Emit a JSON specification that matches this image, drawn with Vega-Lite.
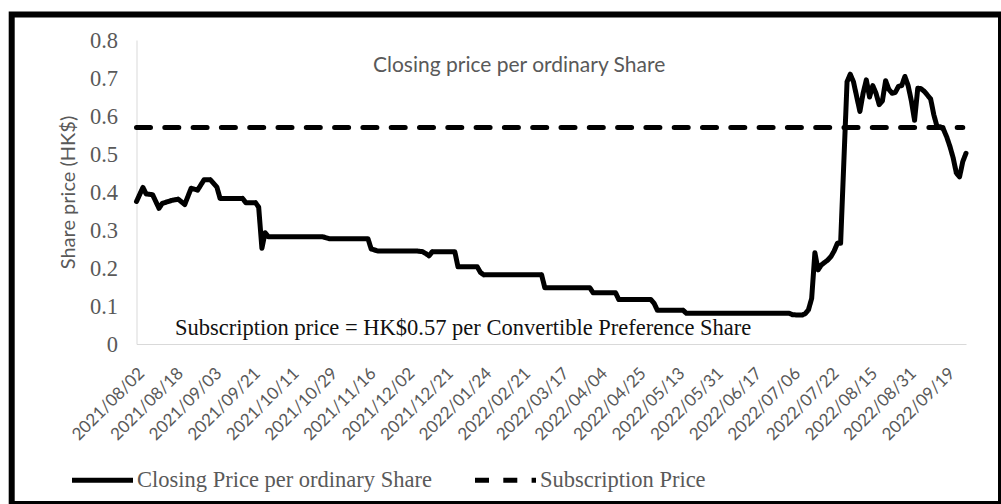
{
  "$schema": "https://vega.github.io/schema/vega-lite/v6.json",
  "width": 989.3,
  "height": 489.6,
  "autosize": {"type": "none"},
  "padding": {"left": 11.7, "top": 14.4, "right": 0, "bottom": 0},
  "background": "white",
  "config": {"view": {"stroke": "#000", "strokeWidth": 6, "fill": "white"}},
  "layer": [
    {
      "data": {"values": [
        {"i": 0, "p": 0.375, "s": "Closing Price per ordinary Share"},
        {"i": 2, "p": 0.412, "s": "Closing Price per ordinary Share"},
        {"i": 3, "p": 0.395, "s": "Closing Price per ordinary Share"},
        {"i": 5, "p": 0.393, "s": "Closing Price per ordinary Share"},
        {"i": 7, "p": 0.357, "s": "Closing Price per ordinary Share"},
        {"i": 8, "p": 0.37, "s": "Closing Price per ordinary Share"},
        {"i": 11, "p": 0.378, "s": "Closing Price per ordinary Share"},
        {"i": 13, "p": 0.381, "s": "Closing Price per ordinary Share"},
        {"i": 15, "p": 0.367, "s": "Closing Price per ordinary Share"},
        {"i": 17, "p": 0.41, "s": "Closing Price per ordinary Share"},
        {"i": 19, "p": 0.405, "s": "Closing Price per ordinary Share"},
        {"i": 21, "p": 0.432, "s": "Closing Price per ordinary Share"},
        {"i": 23, "p": 0.432, "s": "Closing Price per ordinary Share"},
        {"i": 25, "p": 0.413, "s": "Closing Price per ordinary Share"},
        {"i": 26, "p": 0.383, "s": "Closing Price per ordinary Share"},
        {"i": 33, "p": 0.383, "s": "Closing Price per ordinary Share"},
        {"i": 34, "p": 0.372, "s": "Closing Price per ordinary Share"},
        {"i": 37, "p": 0.372, "s": "Closing Price per ordinary Share"},
        {"i": 38, "p": 0.36, "s": "Closing Price per ordinary Share"},
        {"i": 39, "p": 0.252, "s": "Closing Price per ordinary Share"},
        {"i": 40, "p": 0.293, "s": "Closing Price per ordinary Share"},
        {"i": 41, "p": 0.282, "s": "Closing Price per ordinary Share"},
        {"i": 58, "p": 0.282, "s": "Closing Price per ordinary Share"},
        {"i": 60, "p": 0.277, "s": "Closing Price per ordinary Share"},
        {"i": 72, "p": 0.277, "s": "Closing Price per ordinary Share"},
        {"i": 73, "p": 0.25, "s": "Closing Price per ordinary Share"},
        {"i": 75, "p": 0.245, "s": "Closing Price per ordinary Share"},
        {"i": 87, "p": 0.245, "s": "Closing Price per ordinary Share"},
        {"i": 89, "p": 0.243, "s": "Closing Price per ordinary Share"},
        {"i": 90, "p": 0.238, "s": "Closing Price per ordinary Share"},
        {"i": 91, "p": 0.232, "s": "Closing Price per ordinary Share"},
        {"i": 92, "p": 0.243, "s": "Closing Price per ordinary Share"},
        {"i": 99, "p": 0.243, "s": "Closing Price per ordinary Share"},
        {"i": 100, "p": 0.203, "s": "Closing Price per ordinary Share"},
        {"i": 106, "p": 0.203, "s": "Closing Price per ordinary Share"},
        {"i": 107, "p": 0.188, "s": "Closing Price per ordinary Share"},
        {"i": 108, "p": 0.182, "s": "Closing Price per ordinary Share"},
        {"i": 126, "p": 0.182, "s": "Closing Price per ordinary Share"},
        {"i": 127, "p": 0.148, "s": "Closing Price per ordinary Share"},
        {"i": 141, "p": 0.148, "s": "Closing Price per ordinary Share"},
        {"i": 142, "p": 0.135, "s": "Closing Price per ordinary Share"},
        {"i": 149, "p": 0.135, "s": "Closing Price per ordinary Share"},
        {"i": 150, "p": 0.117, "s": "Closing Price per ordinary Share"},
        {"i": 160, "p": 0.117, "s": "Closing Price per ordinary Share"},
        {"i": 161, "p": 0.107, "s": "Closing Price per ordinary Share"},
        {"i": 162, "p": 0.089, "s": "Closing Price per ordinary Share"},
        {"i": 170, "p": 0.089, "s": "Closing Price per ordinary Share"},
        {"i": 171, "p": 0.081, "s": "Closing Price per ordinary Share"},
        {"i": 203, "p": 0.081, "s": "Closing Price per ordinary Share"},
        {"i": 204, "p": 0.077, "s": "Closing Price per ordinary Share"},
        {"i": 207, "p": 0.076, "s": "Closing Price per ordinary Share"},
        {"i": 208, "p": 0.08, "s": "Closing Price per ordinary Share"},
        {"i": 209, "p": 0.09, "s": "Closing Price per ordinary Share"},
        {"i": 210, "p": 0.12, "s": "Closing Price per ordinary Share"},
        {"i": 211, "p": 0.24, "s": "Closing Price per ordinary Share"},
        {"i": 212, "p": 0.195, "s": "Closing Price per ordinary Share"},
        {"i": 213, "p": 0.208, "s": "Closing Price per ordinary Share"},
        {"i": 215, "p": 0.221, "s": "Closing Price per ordinary Share"},
        {"i": 216, "p": 0.23, "s": "Closing Price per ordinary Share"},
        {"i": 217, "p": 0.245, "s": "Closing Price per ordinary Share"},
        {"i": 218, "p": 0.265, "s": "Closing Price per ordinary Share"},
        {"i": 219, "p": 0.265, "s": "Closing Price per ordinary Share"},
        {"i": 221, "p": 0.69, "s": "Closing Price per ordinary Share"},
        {"i": 222, "p": 0.71, "s": "Closing Price per ordinary Share"},
        {"i": 223, "p": 0.69, "s": "Closing Price per ordinary Share"},
        {"i": 225, "p": 0.612, "s": "Closing Price per ordinary Share"},
        {"i": 226, "p": 0.66, "s": "Closing Price per ordinary Share"},
        {"i": 227, "p": 0.695, "s": "Closing Price per ordinary Share"},
        {"i": 228, "p": 0.65, "s": "Closing Price per ordinary Share"},
        {"i": 229, "p": 0.68, "s": "Closing Price per ordinary Share"},
        {"i": 230, "p": 0.66, "s": "Closing Price per ordinary Share"},
        {"i": 231, "p": 0.63, "s": "Closing Price per ordinary Share"},
        {"i": 232, "p": 0.64, "s": "Closing Price per ordinary Share"},
        {"i": 233, "p": 0.693, "s": "Closing Price per ordinary Share"},
        {"i": 234, "p": 0.67, "s": "Closing Price per ordinary Share"},
        {"i": 235, "p": 0.66, "s": "Closing Price per ordinary Share"},
        {"i": 236, "p": 0.662, "s": "Closing Price per ordinary Share"},
        {"i": 237, "p": 0.678, "s": "Closing Price per ordinary Share"},
        {"i": 238, "p": 0.68, "s": "Closing Price per ordinary Share"},
        {"i": 239, "p": 0.704, "s": "Closing Price per ordinary Share"},
        {"i": 240, "p": 0.68, "s": "Closing Price per ordinary Share"},
        {"i": 241, "p": 0.64, "s": "Closing Price per ordinary Share"},
        {"i": 242, "p": 0.589, "s": "Closing Price per ordinary Share"},
        {"i": 243, "p": 0.673, "s": "Closing Price per ordinary Share"},
        {"i": 244, "p": 0.672, "s": "Closing Price per ordinary Share"},
        {"i": 245, "p": 0.665, "s": "Closing Price per ordinary Share"},
        {"i": 246, "p": 0.655, "s": "Closing Price per ordinary Share"},
        {"i": 247, "p": 0.645, "s": "Closing Price per ordinary Share"},
        {"i": 248, "p": 0.603, "s": "Closing Price per ordinary Share"},
        {"i": 249, "p": 0.572, "s": "Closing Price per ordinary Share"},
        {"i": 250, "p": 0.572, "s": "Closing Price per ordinary Share"},
        {"i": 251, "p": 0.565, "s": "Closing Price per ordinary Share"},
        {"i": 252, "p": 0.545, "s": "Closing Price per ordinary Share"},
        {"i": 253, "p": 0.52, "s": "Closing Price per ordinary Share"},
        {"i": 254, "p": 0.49, "s": "Closing Price per ordinary Share"},
        {"i": 255, "p": 0.45, "s": "Closing Price per ordinary Share"},
        {"i": 256, "p": 0.44, "s": "Closing Price per ordinary Share"},
        {"i": 257, "p": 0.48, "s": "Closing Price per ordinary Share"},
        {"i": 258, "p": 0.502, "s": "Closing Price per ordinary Share"},
        {"i": 0, "p": 0.57, "s": "Subscription Price"},
        {"i": 257, "p": 0.57, "s": "Subscription Price"}
      ]},
      "mark": {"type": "line", "strokeWidth": 5, "strokeCap": "round", "strokeJoin": "round", "color": "#000"},
      "encoding": {
        "x": {
          "field": "i", "type": "quantitative",
          "scale": {"domain": [0, 258], "range": [124.8, 954.3], "nice": false, "zero": false},
          "axis": {
            "orient": "bottom", "offset": -160, "title": null, "grid": false,
            "values": [0, 12, 24, 36, 48, 60, 72, 84, 96, 108, 120, 132, 144, 156, 168, 180, 192, 204, 216, 228, 240, 252],
            "labelExpr": "['2021/08/02','2021/08/18','2021/09/03','2021/09/21','2021/10/11','2021/10/29','2021/11/16','2021/12/02','2021/12/21','2022/01/24','2022/02/21','2022/03/17','2022/04/04','2022/04/25','2022/05/13','2022/05/31','2022/06/17','2022/07/06','2022/07/22','2022/08/15','2022/08/31','2022/09/19'][round(datum.value/12)]",
            "labelAngle": -45, "labelAlign": "right", "labelBaseline": "middle",
            "labelPadding": 26.5, "labelOffset": 5, "labelOverlap": false, "labelFlush": false, "labelBound": false,
            "ticks": false, "tickSize": 0,
            "domainColor": "#d9d9d9", "domainWidth": 1,
            "labelFont": "Lato", "labelFontSize": 17, "labelColor": "#595959"
          }
        },
        "y": {
          "field": "p", "type": "quantitative",
          "scale": {"domain": [0, 0.8], "range": [329.6, 25.6], "nice": false, "zero": false},
          "axis": {
            "orient": "left", "offset": -124.8, "grid": false,
            "title": "Share price (HK$)",
            "values": [0, 0.1, 0.2, 0.3, 0.4, 0.5, 0.6, 0.7, 0.8], "format": "~g",
            "ticks": false, "tickSize": 0, "labelPadding": 19,
            "domainColor": "#d9d9d9", "domainWidth": 1,
            "labelFont": "Liberation Serif", "labelFontSize": 22.5, "labelColor": "#595959",
            "titleFont": "Lato", "titleFontSize": 20, "titleFontWeight": "normal", "titleColor": "#595959", "titlePadding": 11
          }
        },
        "strokeDash": {
          "field": "s", "type": "nominal",
          "scale": {"domain": ["Closing Price per ordinary Share", "Subscription Price"], "range": [[1, 0], [14, 14.3]]},
          "legend": {
            "orient": "none", "legendX": 57.8, "legendY": 432.6, "direction": "horizontal", "title": null,
            "symbolType": "stroke", "symbolSize": 3721, "symbolStrokeWidth": 5, "symbolStrokeColor": "#000",
            "labelFont": "Liberation Serif", "labelFontSize": 22.5, "labelColor": "#595959", "labelLimit": 0,
            "labelOffset": 1.5, "columnPadding": 32, "padding": 0
          }
        }
      }
    },
    {
      "data": {"values": [{}]},
      "mark": {"type": "text", "font": "Lato", "fontSize": 21, "color": "#595959", "align": "center", "baseline": "alphabetic"},
      "encoding": {
        "x": {"datum": 119},
        "y": {"datum": 0.715},
        "text": {"value": "Closing price per ordinary Share"}
      }
    },
    {
      "data": {"values": [{}]},
      "mark": {"type": "text", "font": "Liberation Serif", "fontSize": 22.5, "color": "#111111", "align": "center", "baseline": "alphabetic"},
      "encoding": {
        "x": {"datum": 101.6},
        "y": {"datum": 0.0237},
        "text": {"value": "Subscription price = HK$0.57 per Convertible Preference Share"}
      }
    }
  ]
}
